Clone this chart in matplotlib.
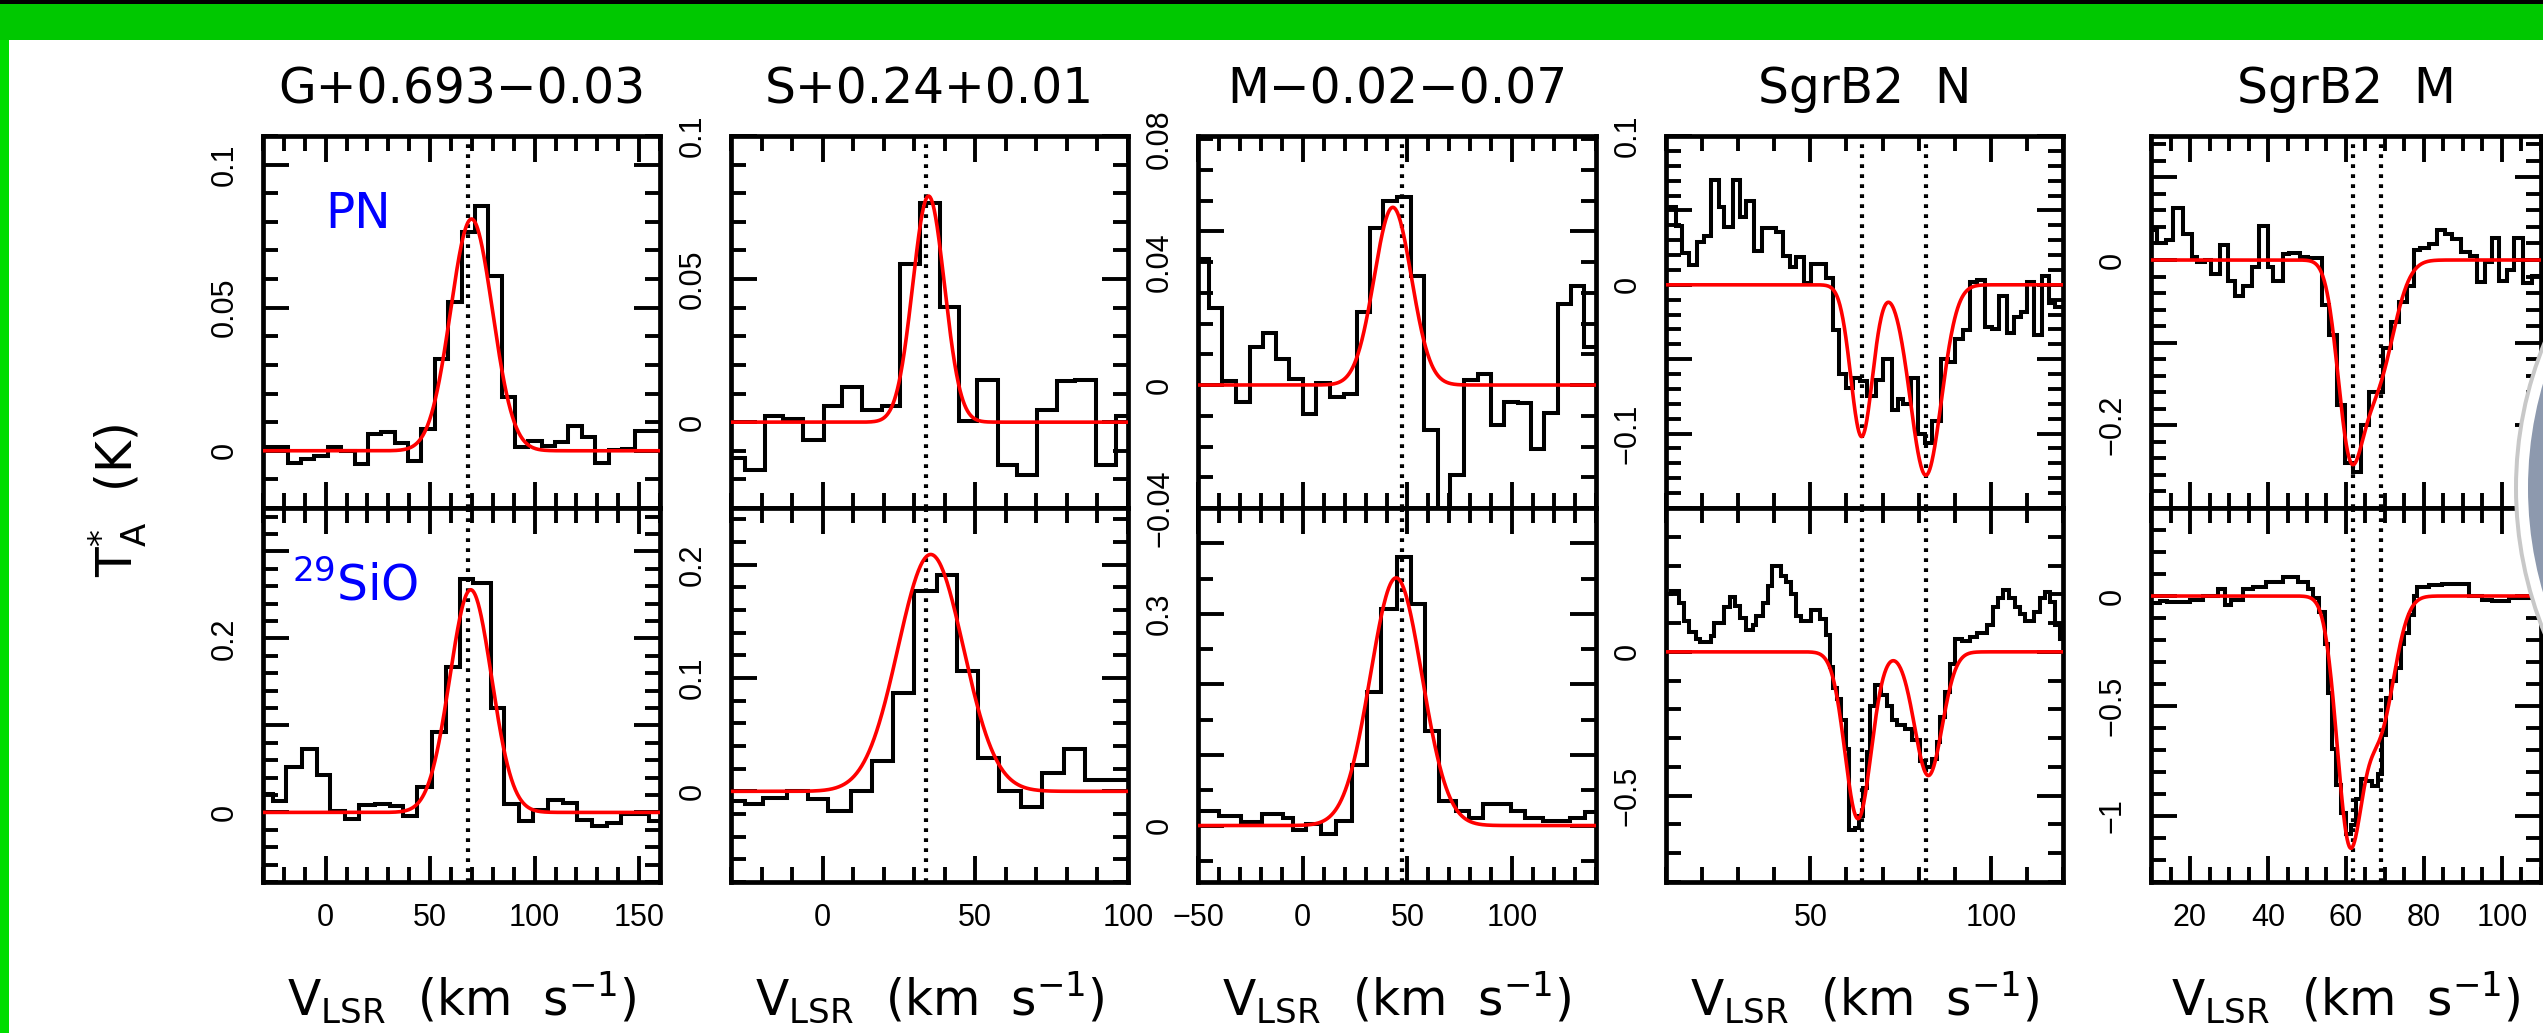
import numpy as np
import matplotlib.pyplot as plt
import matplotlib.transforms as mtransforms
from matplotlib.patches import Rectangle, Ellipse
from matplotlib.ticker import MultipleLocator

plt.rcParams['font.family'] = 'DejaVu Sans'
plt.rcParams['mathtext.fontset'] = 'dejavusans'

# ---------------- values ----------------
titles = ['G+0.693\u22120.03', 'S+0.24+0.01', 'M\u22120.02\u22120.07', 'SgrB2  N', 'SgrB2  M']

# channel edges (km/s) and T_A* (K); top row = PN, bottom row = 29SiO
g_top_v = [-30, -24.6, -18.2, -11.8, -5.4, 1.0, 7.4, 13.8, 20.2, 26.6, 33.0, 39.4, 45.8, 52.2, 58.6,
           65.0, 71.4, 77.8, 84.2, 90.6, 97.0, 103.4, 109.8, 116.2, 122.6, 129.0, 135.4, 141.8, 148.2,
           154.6, 160]
g_top_t = [0.0012, 0.0012, -0.0044, -0.0029, -0.0018, 0.0014, -0.0002, -0.0047, 0.0058, 0.0064,
           0.0026, -0.0035, 0.0076, 0.0321, 0.0520, 0.0765, 0.0855, 0.0610, 0.0187, 0.0014, 0.0035,
           0.0018, 0.0029, 0.0085, 0.0049, -0.0044, 0.0002, 0.0006, 0.0068, 0.0068]
g_bot_v = [-30, -25.2, -19.2, -11.1, -4.3, 2.1, 9.2, 16.0, 23.5, 31.0, 37.0, 43.8, 50.9, 57.7, 64.1,
           70.5, 79.1, 85.5, 92.3, 99.4, 106.2, 113.7, 120.3, 127.6, 134.6, 141.5, 154.9, 160]
g_bot_t = [0.0216, 0.0127, 0.0522, 0.0727, 0.0429, 0.0012, -0.0078, 0.0086, 0.0102, 0.0073, -0.0037,
           0.0290, 0.0922, 0.1673, 0.2678, 0.2637, 0.1196, 0.0102, -0.0102, 0.0033, 0.0143, 0.0114,
           -0.0090, -0.0151, -0.0118, -0.0020, -0.0102]

s_top_v = [-30, -25.5, -18.9, -12.9, -6.3, 0.4, 6.2, 12.8, 19.4, 25.4, 31.9, 38.5, 44.5, 50.5, 57.3,
           63.7, 70.2, 76.8, 82.8, 89.4, 96.0, 100]
s_top_t = [-0.0126, -0.0166, 0.0020, 0.0012, -0.0064, 0.0055, 0.0124, 0.0041, 0.0058, 0.0552, 0.0767,
           0.0403, 0.0003, 0.0148, -0.0151, -0.0183, 0.0041, 0.0143, 0.0148, -0.0151, 0.0020]
s_bot_v = [-30, -25.5, -19.5, -11.8, -4.7, 1.9, 9.2, 16.1, 23.0, 29.8, 37.4, 44.0, 50.8, 57.7, 64.8,
           71.9, 79.0, 85.8, 100]
s_bot_t = [-0.0084, -0.0109, -0.0062, 0.0, -0.0072, -0.0171, 0.0, 0.0271, 0.0866, 0.1766, 0.1907,
           0.1059, 0.0296, 0.0, -0.0134, 0.0165, 0.0374, 0.0100]

m_top_v = [-50, -44.9, -38.5, -31.8, -25.4, -18.9, -12.8, -6.4, 0, 6.4, 12.8, 19.6, 25.7, 32.1, 38.5,
           44.9, 51.7, 58.1, 64.5, 70.3, 77.0, 83.5, 89.9, 96.0, 102.7, 109.1, 115.2, 121.7, 128.1,
           134.5, 140]
m_top_t = [0.0411, 0.0249, 0.0013, -0.0054, 0.0124, 0.0170, 0.0084, 0.0019, -0.0095, 0.0005, -0.0038,
           -0.0030, 0.0236, 0.0510, 0.0600, 0.0611, 0.0355, -0.0146, -0.0600, -0.0292, 0.0016, 0.0035,
           -0.0130, -0.0054, -0.0059, -0.0208, -0.0092, 0.0265, 0.0322, 0.0124]
m_bot_v = [-50, -40.1, -29.7, -19.3, -9.6, -4.8, 1.6, 8.8, 16.1, 23.3, 30.5, 37.4, 44.9, 51.7, 58.6,
           65.0, 73.0, 79.5, 85.9, 99.5, 105.9, 114.8, 127.6, 134.8, 140]
m_bot_t = [0.0201, 0.0136, 0.0050, 0.0161, 0.0111, -0.0065, 0.0020, -0.0116, 0.0070, 0.0864, 0.1894,
           0.3065, 0.3804, 0.3136, 0.1342, 0.0352, 0.0201, 0.0100, 0.0302, 0.0201, 0.0111, 0.0070,
           0.0111, 0.0186]

n_top_v = [10, 12.8, 14.4, 16.3, 18.5, 20.4, 22.5, 24.6, 26.2, 28.7, 30.4, 32.2, 34.3, 36.7, 40.6,
           42.4, 44.3, 46.1, 48.1, 50.3, 54.4, 56.3, 58.0, 60.0, 61.9, 63.7, 65.6, 68.1, 70.2, 72.5,
           74.2, 75.7, 77.8, 79.9, 81.8, 83.8, 86.1, 88.0, 90.1, 92.2, 94.1, 96.1, 98.4, 100.3, 102.4,
           104.4, 106.5, 108.3, 110.0, 111.9, 114.2, 116.0, 117.9, 120]
n_top_t = [0.0525, 0.0397, 0.0211, 0.0135, 0.0285, 0.0330, 0.0704, 0.0525, 0.0386, 0.0704, 0.0457,
           0.0561, 0.0224, 0.0379, 0.0352, 0.0195, 0.0117, 0.0188, 0.0009, 0.0143, 0.0049, -0.0305,
           -0.0601, -0.0691, -0.0623, -0.0646, -0.0747, -0.0641, -0.0500, -0.0843, -0.0769, -0.0803,
           -0.0623, -0.1000, -0.1061, -0.0915, -0.0500, -0.0522, -0.0365, -0.0305, 0.0016, 0.0031,
           -0.0283, -0.0298, -0.0074, -0.0327, -0.0215, -0.0186, 0.0016, -0.0336, 0.0061, -0.0119,
           -0.0148]
n_bot_v = [10.0, 11.4, 13.7, 15.1, 16.5, 18.3, 19.3, 22.5, 23.4, 26.2, 27.6, 29.0, 30.4, 32.2, 34.1,
           35.0, 36.9, 38.2, 39.4, 41.9, 43.3, 44.7, 46.1, 47.5, 50.3, 52.6, 54.4, 55.4, 56.3, 57.4,
           58.6, 59.8, 60.7, 62.3, 63.5, 64.6, 65.6, 66.5, 67.9, 69.7, 71.1, 72.5, 73.9, 76.2, 78.1,
           80.4, 81.8, 83.6, 85.0, 85.9, 87.3, 88.7, 90.1, 91.9, 94.3, 96.1, 98.9, 100.7, 102.1, 103.5,
           104.9, 106.8, 108.1, 109.5, 111.9, 113.7, 115.1, 116.5, 117.9, 119.3, 120.0]
n_bot_t = [0.20, 0.21, 0.17, 0.107, 0.07, 0.046, 0.033, 0.055, 0.10, 0.156, 0.19, 0.159, 0.119, 0.076,
           0.095, 0.126, 0.171, 0.23, 0.30, 0.265, 0.243, 0.20, 0.126, 0.107, 0.144, 0.113, 0.058,
           -0.053, -0.127, -0.164, -0.238, -0.336, -0.619, -0.613, -0.570, -0.472, -0.349, -0.188,
           -0.115, -0.151, -0.188, -0.238, -0.256, -0.268, -0.305, -0.379, -0.400, -0.373, -0.312,
           -0.225, -0.139, -0.041, 0.046, 0.039, 0.052, 0.064, 0.095, 0.156, 0.187, 0.216, 0.187,
           0.156, 0.132, 0.107, 0.138, 0.187, 0.208, 0.175, 0.095, 0.046]

b_top_v = [10.0, 11.5, 13.9, 15.7, 18.1, 20.4, 21.7, 23.8, 25.5, 27.7, 29.8, 31.5, 33.6, 36.0, 37.7,
           40.0, 41.4, 43.8, 45.5, 48.1, 50.2, 53.9, 55.6, 57.6, 59.8, 61.7, 63.8, 65.8, 69.4, 71.5,
           73.6, 75.7, 77.4, 79.1, 81.3, 83.4, 85.5, 87.2, 89.6, 91.7, 93.6, 95.7, 97.4, 99.3, 101.3,
           103.2, 105.5, 107.7, 110.0]
b_top_t = [0.036, 0.020, 0.024, 0.063, 0.031, 0.004, -0.003, 0.0, -0.017, 0.0185, -0.025, -0.043,
           -0.031, -0.009, 0.041, -0.009, -0.025, 0.007, 0.009, 0.004, 0.003, -0.055, -0.091, -0.176,
           -0.246, -0.256, -0.200, -0.160, -0.107, -0.075, -0.051, -0.031, 0.012, 0.015, 0.019, 0.036,
           0.032, 0.025, 0.010, 0.005, -0.027, -0.002, 0.027, -0.025, -0.012, 0.027, -0.028, -0.019]
b_bot_v = [10.0, 12.3, 14.0, 20.0, 23.4, 27.2, 28.9, 30.6, 33.6, 36.2, 39.6, 43.8, 47.7, 50.2, 51.5,
           53.2, 54.5, 55.3, 56.4, 57.4, 58.7, 60.0, 61.3, 62.6, 63.8, 65.1, 66.6, 68.1, 69.2, 70.2,
           71.5, 72.8, 74.0, 74.9, 76.2, 77.4, 78.3, 81.3, 84.7, 88.5, 91.5, 94.9, 97.4, 101.7, 106.0,
           110.0]
b_bot_t = [-0.032, -0.024, -0.029, -0.016, 0.0, 0.032, -0.040, -0.016, 0.032, 0.043, 0.064, 0.085,
           0.064, 0.032, -0.008, -0.072, -0.216, -0.44, -0.697, -0.857, -0.986, -1.082, -1.042, -0.921,
           -0.833, -0.841, -0.865, -0.809, -0.633, -0.465, -0.385, -0.329, -0.216, -0.168, -0.088, 0.0,
           0.040, 0.048, 0.056, 0.056, 0.0, -0.016, -0.024, -0.011, -0.011]

# gaussian fits: (amplitude K, centre km/s, sigma km/s)
g_top_fit = [(0.081, 69.8, 10.0)]
g_bot_fit = [(0.256, 69.4, 10.0)]
s_top_fit = [(0.079, 34.7, 5.2)]
s_bot_fit = [(0.209, 35.4, 10.7)]
m_top_fit = [(0.0578, 43.0, 8.9)]
m_bot_fit = [(0.351, 44.6, 12.3)]
n_top_fit = [(-0.102, 64.2, 3.0), (-0.128, 82.0, 4.3)]
n_bot_fit = [(-0.58, 63.2, 3.6), (-0.43, 82.7, 3.8)]
b_top_fit = [(-0.19, 60.8, 3.1), (-0.15, 67.5, 4.5)]
b_bot_fit = [(-1.06, 60.8, 3.2), (-0.60, 68.5, 3.8)]

# dotted reference velocities
vlines = [[68.0], [33.9], [47.2], [64.2, 82.0], [61.9, 68.9]]

x_ranges = [(-30, 160), (-30, 100), (-50, 140), (10, 120), (10, 110)]
top_ylims = [(-0.02, 0.11), (-0.03, 0.10), (-0.04, 0.081), (-0.15, 0.10), (-0.30, 0.15)]
bot_ylims = [(-0.08, 0.35), (-0.08, 0.25), (-0.08, 0.45), (-0.80, 0.50), (-1.30, 0.40)]
top_ylabels = [[0, 0.05, 0.1], [0, 0.05, 0.1], [-0.04, 0, 0.04, 0.08], [-0.1, 0, 0.1], [-0.2, 0]]
bot_ylabels = [[0, 0.2], [0, 0.1, 0.2], [0, 0.3], [-0.5, 0], [-1, -0.5, 0]]

# ---------------- layout / style ----------------
W, H = 2543, 1033
col_left = [263, 731, 1198, 1666, 2151]
col_right = [660, 1128, 1596, 2063, 2541]
row_top, row_mid, row_bot = 136, 508, 882

x_major = [50, 50, 50, 50, 20]
x_minor = [10, 10, 10, 10, 5]
top_major = [0.05, 0.05, 0.05, 0.05, 0.1]
top_minor = [0.01, 0.01, 0.01, 0.01, 0.02]
bot_major = [0.1, 0.1, 0.1, 0.5, 0.5]
bot_minor = [0.02, 0.02, 0.05, 0.1, 0.1]

top_rows = [(g_top_v, g_top_t, g_top_fit), (s_top_v, s_top_t, s_top_fit), (m_top_v, m_top_t, m_top_fit),
            (n_top_v, n_top_t, n_top_fit), (b_top_v, b_top_t, b_top_fit)]
bot_rows = [(g_bot_v, g_bot_t, g_bot_fit), (s_bot_v, s_bot_t, s_bot_fit), (m_bot_v, m_bot_t, m_bot_fit),
            (n_bot_v, n_bot_t, n_bot_fit), (b_bot_v, b_bot_t, b_bot_fit)]

TICKFONT = 'Liberation Sans'

fig = plt.figure(figsize=(W / 100, H / 100), dpi=100)
fig.patch.set_facecolor('white')


def px_axes(x0, x1, y0, y1):
    return fig.add_axes([x0 / W, 1 - y1 / H, (x1 - x0) / W, (y1 - y0) / H])


def fmt(v):
    return f'{v:g}'.replace('-', '\u2212')


for i in range(5):
    rows = [(row_top, row_mid, top_rows[i], top_ylims[i], top_ylabels[i], top_major[i], top_minor[i]),
            (row_mid, row_bot, bot_rows[i], bot_ylims[i], bot_ylabels[i], bot_major[i], bot_minor[i])]
    for r, (y0, y1, spec, ylim, ylabs, ymaj, ymin) in enumerate(rows):
        ax = px_axes(col_left[i], col_right[i], y0, y1)
        edges, temps, fit = spec
        ax.stairs(temps, edges, baseline=None, color='black', lw=2.9, zorder=2)

        v = np.linspace(x_ranges[i][0], x_ranges[i][1], 800)
        model = np.zeros_like(v)
        for a, c, s in fit:
            model += a * np.exp(-0.5 * ((v - c) / s) ** 2)
        ax.plot(v, model, color='#ff0000', lw=2.6, zorder=4)

        for vl in vlines[i]:
            ax.axvline(vl, color='black', lw=3.0, ls=(0, (0.9, 1.5)), zorder=3)

        ax.set_xlim(x_ranges[i])
        ax.set_ylim(ylim)
        ax.xaxis.set_major_locator(MultipleLocator(x_major[i]))
        ax.xaxis.set_minor_locator(MultipleLocator(x_minor[i]))
        ax.yaxis.set_major_locator(MultipleLocator(ymaj))
        ax.yaxis.set_minor_locator(MultipleLocator(ymin))
        ax.tick_params(which='both', direction='in', top=True, right=True, bottom=True, left=True,
                       width=2.8, labelleft=False, labelbottom=(r == 1), labelsize=22,
                       labelfontfamily=TICKFONT, pad=15)
        ax.tick_params(which='major', length=19)
        ax.tick_params(which='minor', length=10.5)
        for sp in ax.spines.values():
            sp.set_linewidth(3.4)

        tr = mtransforms.offset_copy(ax.get_yaxis_transform(), fig=fig, x=-23, y=0, units='dots')
        for yv in ylabs:
            ax.text(0, yv, fmt(yv), transform=tr, rotation=90, ha='right', va='center',
                    fontsize=22, family=TICKFONT)

        if i == 0 and r == 0:
            ax.text(0, 0.078, 'PN', color='#0000ff', fontsize=35, ha='left', va='baseline')
        if i == 0 and r == 1:
            ax.text(-16, 0.244, r'$^{29}$SiO', color='#0000ff', fontsize=35, ha='left', va='baseline')

    xc = (col_left[i] + col_right[i]) / 2 / W
    fig.text(xc, 1 - 103 / H, titles[i], ha='center', va='baseline', fontsize=35)
    fig.text(xc, 1 - 1015 / H, r'V$_{\rm LSR}$  (km  s$^{-1}$)', ha='center', va='baseline', fontsize=35)

fig.text(118 / W, 1 - 500 / H, r'T$_{\rm A}^{*}$  (K)', rotation=90, ha='center', va='center', fontsize=35)

# slide frame: green band on top, green strip on the left
fig.add_artist(Rectangle((0, 1 - 40 / H), 1, 40 / H, transform=fig.transFigure,
                         facecolor='#00c800', edgecolor='none', zorder=6))
fig.add_artist(Rectangle((0, 1 - 4 / H), 1, 4 / H, transform=fig.transFigure,
                         facecolor='black', edgecolor='none', zorder=7))
fig.add_artist(Rectangle((0, 0), 9 / W, 1 - 40 / H, transform=fig.transFigure,
                         facecolor='#00dd00', edgecolor='none', zorder=6))

# grey round button sticking in from the right edge
R, cx, cy = 382, 2518 + 382, 488
for rad, col in [(R + 4, '#c8c8c8'), (R, 'white'), (R - 10, '#8d99ae')]:
    fig.add_artist(Ellipse((cx / W, 1 - cy / H), 2 * rad / W, 2 * rad / H, transform=fig.transFigure,
                           facecolor=col, edgecolor='none', zorder=8))

fig.savefig('out.png', dpi=100)
